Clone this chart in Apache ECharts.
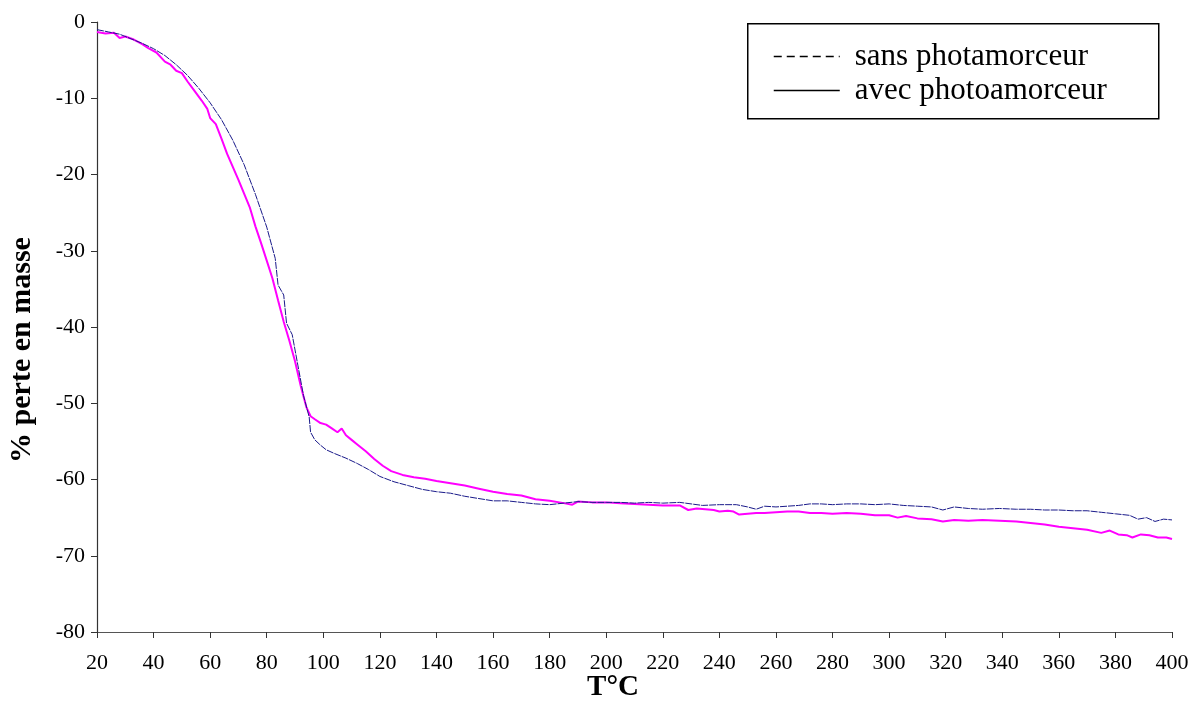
<!DOCTYPE html>
<html>
<head>
<meta charset="utf-8">
<script src="https://cdn.jsdelivr.net/npm/echarts@6/dist/echarts.min.js"></script>
<style>html,body{margin:0;padding:0;background:#fff}#c{width:1194px;height:713px}</style>
</head>
<body>
<div id="c"></div>
<script>
// ---- data ----
const seriesNames = ['sans photamorceur', 'avec photoamorceur'];
const xTitle = 'T°C';
const yTitle = '% perte en masse';
const xTicks = [20, 40, 60, 80, 100, 120, 140, 160, 180, 200, 220, 240, 260, 280, 300, 320, 340, 360, 380, 400];
const yTicks = [0, -10, -20, -30, -40, -50, -60, -70, -80];

const sansT = [20,24,28,32,36,40,44,48,52,56,60,64,68,72,76,80,83,84,86,87,89,91,93,95,95.5,97,99,101,104,108,112,116,120,125,130,135,140,145,150,155,160,165,170,175,180,185,190,195,200,205,210,215,220,226,230,234,240,246,250,253,256,260,264,268,272,276,280,285,290,295,300,305,310,315,319,323,328,333,339,345,350,355,360,365,370,375,380,385,388,391,394,397,400];
const sansY = [-1.0,-1.3,-1.6,-2.2,-2.8,-3.5,-4.4,-5.6,-7.0,-8.7,-10.6,-12.8,-15.5,-18.7,-22.6,-26.9,-31.0,-34.5,-35.8,-39.5,-41.0,-45.0,-49.0,-51.8,-53.8,-54.8,-55.5,-56.1,-56.6,-57.2,-57.9,-58.7,-59.6,-60.3,-60.8,-61.3,-61.6,-61.8,-62.2,-62.5,-62.8,-62.8,-63.0,-63.2,-63.3,-63.1,-62.9,-63.0,-63.0,-63.0,-63.1,-63.0,-63.1,-63.0,-63.2,-63.4,-63.3,-63.3,-63.6,-63.9,-63.5,-63.6,-63.5,-63.4,-63.2,-63.2,-63.3,-63.2,-63.2,-63.3,-63.2,-63.4,-63.5,-63.6,-64.0,-63.6,-63.8,-63.9,-63.8,-63.9,-63.9,-64.0,-64.0,-64.1,-64.1,-64.3,-64.5,-64.7,-65.2,-65.0,-65.5,-65.2,-65.3];

const avecT = [20,23,26,28,30,33,36,38,41,44,46,48,50,52,54,57,59,60,62,64,66,68,70,72,74,76,78,80,82,84,86,88,90,92,94,95.5,97,99,101,103,105,106.5,108,110,112,115,118,121,124,128,132,136,140,145,150,155,160,165,170,175,180,185,188,190,195,200,205,210,215,220,226,229,232,235,238,240,243,245,247,250,253,256,260,264,268,272,276,280,285,290,295,300,303,306,310,315,319,323,328,333,339,345,350,355,360,365,370,375,378,381,384,386,389,392,395,398,400];
const avecY = [-1.3,-1.5,-1.4,-2.1,-1.9,-2.3,-2.9,-3.4,-4.0,-5.2,-5.6,-6.4,-6.7,-7.8,-8.8,-10.3,-11.4,-12.6,-13.4,-15.3,-17.3,-19.0,-20.7,-22.5,-24.3,-26.8,-29.0,-31.3,-33.6,-36.5,-39.3,-41.8,-44.5,-47.7,-50.5,-51.7,-52.1,-52.6,-52.8,-53.3,-53.8,-53.3,-54.2,-54.8,-55.4,-56.3,-57.3,-58.2,-58.9,-59.4,-59.7,-59.9,-60.2,-60.5,-60.8,-61.2,-61.6,-61.9,-62.1,-62.6,-62.8,-63.1,-63.3,-62.9,-63.0,-63.0,-63.1,-63.2,-63.3,-63.4,-63.4,-64.0,-63.8,-63.9,-64.0,-64.2,-64.1,-64.2,-64.6,-64.5,-64.4,-64.4,-64.3,-64.2,-64.2,-64.4,-64.4,-64.5,-64.4,-64.5,-64.7,-64.7,-65.0,-64.8,-65.1,-65.2,-65.5,-65.3,-65.4,-65.3,-65.4,-65.5,-65.7,-65.9,-66.2,-66.4,-66.6,-67.0,-66.7,-67.2,-67.3,-67.6,-67.2,-67.3,-67.6,-67.6,-67.8];

const FONT = '"Liberation Serif", "Times New Roman", serif';
const chart = echarts.init(document.getElementById('c'), null, {renderer: 'canvas'});
chart.setOption({
  animation: false,
  backgroundColor: '#fff',
  grid: {left: 97, right: 22, top: 22, bottom: 81},
  graphic: [
    {type: 'rect', left: 747, top: 23, shape: {width: 411, height: 95},
     style: {fill: '#fff', stroke: '#000', lineWidth: 1.5}, z: 90},
    {type: 'text', x: 22, y: 350, rotation: Math.PI / 2, z: 90,
     style: {text: yTitle, font: 'bold 30px ' + FONT, fill: '#000', align: 'center', verticalAlign: 'middle'}},
    {type: 'text', x: 613, y: 688, z: 90,
     style: {text: xTitle, font: 'bold 29px ' + FONT, fill: '#000', align: 'center', verticalAlign: 'middle'}}
  ],
  legend: {
    orient: 'vertical', left: 768, top: 36, itemWidth: 66, itemHeight: 12, itemGap: 3,
    z: 100,
    textStyle: {fontFamily: FONT, fontSize: 31, color: '#000', padding: [0, 0, 0, 10]},
    data: [
      {name: seriesNames[0], itemStyle: {color: 'transparent', borderWidth: 0, opacity: 0},
       lineStyle: {color: '#000', type: [8, 5], width: 1.5}},
      {name: seriesNames[1], itemStyle: {color: 'transparent', borderWidth: 0, opacity: 0},
       lineStyle: {color: '#000', type: 'solid', width: 1.5}}
    ]
  },
  xAxis: {
    type: 'value', min: 20, max: 400, interval: 20,
    axisLine: {onZero: false, lineStyle: {color: '#555', width: 1.2}},
    axisTick: {inside: false, length: 6, lineStyle: {color: '#333'}},
    axisLabel: {fontFamily: FONT, fontSize: 22, color: '#000', margin: 20,
      formatter: v => xTicks.includes(v) ? String(v) : ''},
    splitLine: {show: false}
  },
  yAxis: {
    type: 'value', min: -80, max: 0, interval: 10,
    axisLine: {show: true, onZero: false, lineStyle: {color: '#333', width: 1.2}},
    axisTick: {show: true, inside: false, length: 6, lineStyle: {color: '#333'}},
    axisLabel: {fontFamily: FONT, fontSize: 22, color: '#000', margin: 12,
      formatter: v => yTicks.includes(v) ? String(v) : ''},
    splitLine: {show: false}
  },
  series: [
    {
      name: seriesNames[0], type: 'line', symbol: 'none', z: 3,
      data: sansT.map((t, i) => [t, sansY[i]]),
      lineStyle: {color: '#1a1a8a', width: 1, type: [7, 1]},
      itemStyle: {color: '#1a1a8a'}
    },
    {
      name: seriesNames[1], type: 'line', symbol: 'none', z: 2,
      data: avecT.map((t, i) => [t, avecY[i]]),
      lineStyle: {color: '#ff00ff', width: 2},
      itemStyle: {color: '#ff00ff'}
    }
  ]
});
</script>
</body>
</html>
